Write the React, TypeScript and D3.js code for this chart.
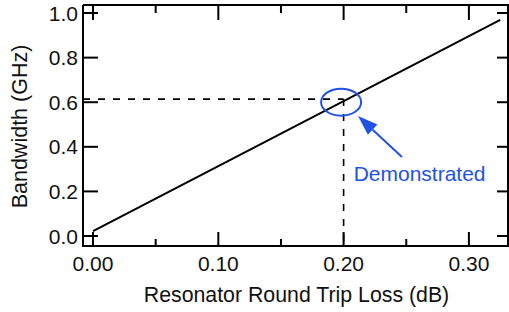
import React from "react";
import * as d3 from "d3";

// straight fit line, bandwidth vs round trip loss
const lossPoints = [0.0, 0.325];
const bandwidthPoints = [0.022, 0.969];

const xMajorTicks = [0.0, 0.1, 0.2, 0.3];
const xMinorTicks = [0.05, 0.15, 0.25];
const xTickLabels = ["0.00", "0.10", "0.20", "0.30"];
const yTicks = [0.0, 0.2, 0.4, 0.6, 0.8, 1.0];
const yTickLabels = ["0.0", "0.2", "0.4", "0.6", "0.8", "1.0"];

// demonstrated operating point
const demoLoss = 0.2;
const demoBandwidth = 0.614;

const W = 509;
const H = 312;
const left = 83, right = 508, top = 5, bottom = 246;
const font = "'Liberation Sans', Arial, sans-serif";
const blue = "#2152e6";

export default function App() {
  const x = d3.scaleLinear().domain([-0.008, 0.3312]).range([left, right]);
  const y = d3.scaleLinear().domain([-0.0448, 1.036]).range([bottom, top]);

  const line = d3
    .line<number>()
    .x((d) => x(d))
    .y((_, i) => y(bandwidthPoints[i]));

  const cx = x(0.198);
  const cy = y(0.6);
  // arrow from label to ellipse
  const ax0 = x(0.2466), ay0 = y(0.354);
  const ax1 = x(0.2115), ay1 = y(0.538);
  const ang = Math.atan2(ay1 - ay0, ax1 - ax0);
  const headLen = 20, headW = 7;
  const bx = ax1 - headLen * Math.cos(ang);
  const by = ay1 - headLen * Math.sin(ang);
  const px = -Math.sin(ang), py = Math.cos(ang);
  const head = `M${ax1},${ay1}L${bx + px * headW},${by + py * headW}L${bx - px * headW},${by - py * headW}Z`;

  return (
    <svg
      width={W}
      height={H}
      style={{ position: "absolute", left: 0, top: 0, background: "#fff" }}
      fontFamily={font}
    >
      <rect x={0} y={0} width={W} height={H} fill="#fff" />

      {/* dashed guides */}
      <g stroke="#000" strokeWidth={1.6} strokeDasharray="7,8" fill="none">
        <line x1={left} x2={x(demoLoss)} y1={y(demoBandwidth)} y2={y(demoBandwidth)} />
        <line x1={x(demoLoss)} x2={x(demoLoss)} y1={y(demoBandwidth)} y2={bottom} />
      </g>

      {/* frame */}
      <g stroke="#000" strokeWidth={2} fill="none">
        <line x1={left} x2={right + 1} y1={top} y2={top} />
        <line x1={left} x2={right + 1} y1={bottom} y2={bottom} />
        <line x1={left} x2={left} y1={top} y2={bottom + 1} />
        <line x1={right} x2={right} y1={top} y2={bottom} />
      </g>

      {/* ticks */}
      <g stroke="#000" strokeWidth={2}>
        {xMajorTicks.map((t) => (
          <g key={"xM" + t}>
            <line x1={x(t)} x2={x(t)} y1={bottom} y2={bottom - 14} />
            <line x1={x(t)} x2={x(t)} y1={top} y2={top + 15} />
          </g>
        ))}
        {xMinorTicks.map((t) => (
          <g key={"xm" + t}>
            <line x1={x(t)} x2={x(t)} y1={bottom} y2={bottom - 7} />
            <line x1={x(t)} x2={x(t)} y1={top} y2={top + 8} />
          </g>
        ))}
        {yTicks.map((t) => (
          <g key={"y" + t}>
            <line x1={left} x2={left + 15} y1={y(t)} y2={y(t)} />
            <line x1={right} x2={right - 11} y1={y(t)} y2={y(t)} />
          </g>
        ))}
      </g>

      {/* tick labels */}
      <g fontSize={21} fill="#111">
        {xMajorTicks.map((t, i) => (
          <text key={"xl" + t} x={x(t)} y={271} textAnchor="middle">
            {xTickLabels[i]}
          </text>
        ))}
        {yTicks.map((t, i) => (
          <text key={"yl" + t} x={78} y={y(t)} dy="0.36em" textAnchor="end">
            {yTickLabels[i]}
          </text>
        ))}
      </g>

      {/* data line */}
      <path d={line(lossPoints) || ""} stroke="#000" strokeWidth={2} fill="none" />

      {/* annotation */}
      <ellipse cx={cx} cy={cy} rx={20} ry={13.5} fill="none" stroke={blue} strokeWidth={2} />
      <line x1={ax0} y1={ay0} x2={bx} y2={by} stroke={blue} strokeWidth={2} />
      <path d={head} fill={blue} />
      <text x={x(0.208)} y={y(0.2466)} fontSize={21} fill={blue}>
        Demonstrated
      </text>

      {/* axis titles */}
      <text x={(143 + 450) / 2} y={302} fontSize={21.3} textAnchor="middle" fill="#111">
        Resonator Round Trip Loss (dB)
      </text>
      <text
        transform={`translate(27,${(top + bottom) / 2 + 1}) rotate(-90)`}
        fontSize={21.5}
        textAnchor="middle"
        fill="#111"
      >
        Bandwidth (GHz)
      </text>
    </svg>
  );
}
